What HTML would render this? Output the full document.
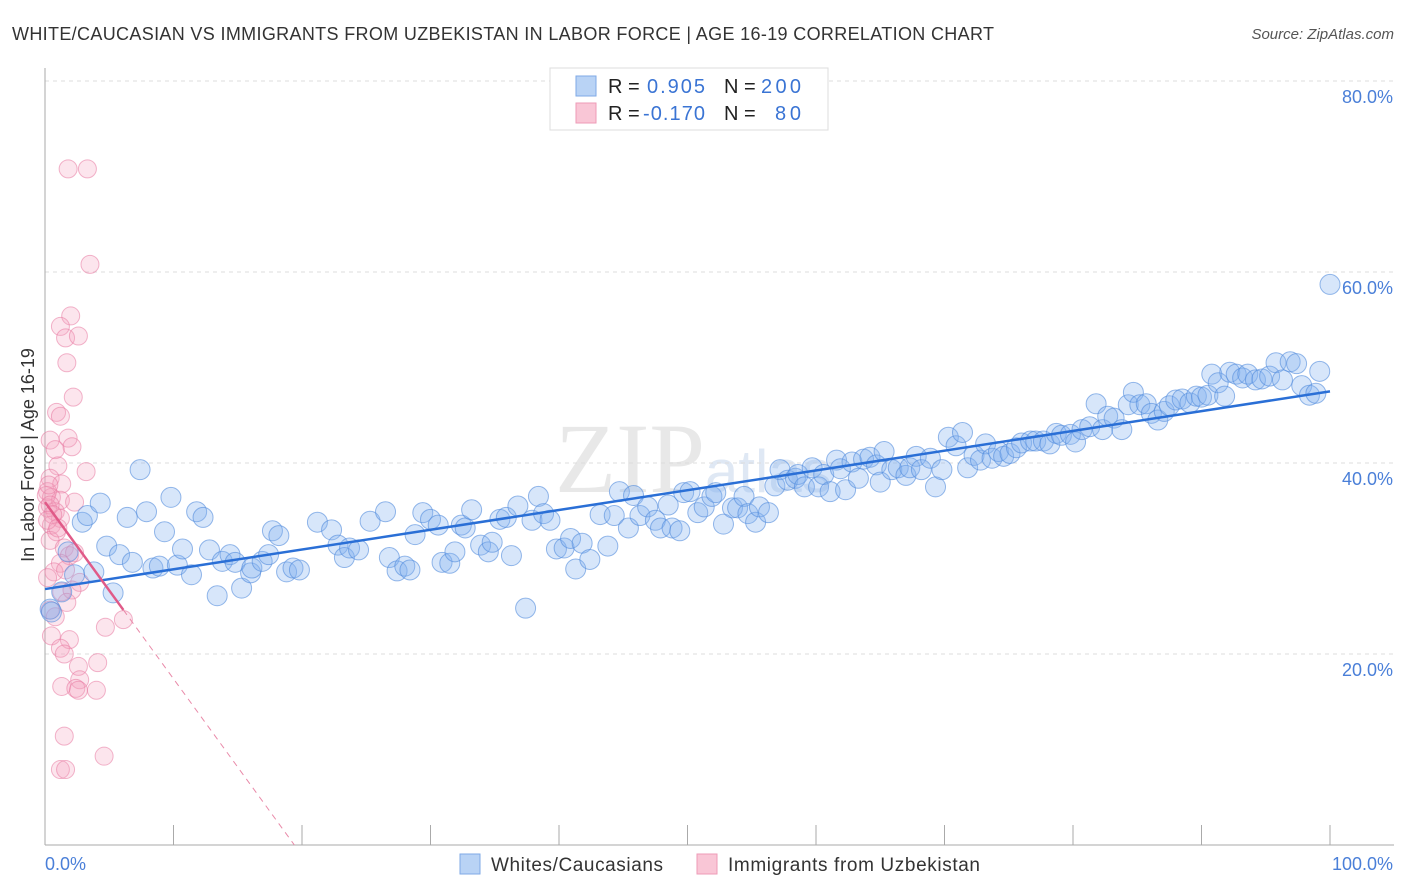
<!DOCTYPE html>
<html><head><meta charset="utf-8"><style>
body{margin:0;background:#fff;font-family:"Liberation Sans",sans-serif;}
#wrap{position:relative;width:1406px;height:892px;overflow:hidden;}
</style></head><body>
<div id="wrap">
<svg id="svg" width="1406" height="892">
<text x="12" y="40" font-size="18" fill="#333" textLength="982" lengthAdjust="spacing">WHITE/CAUCASIAN VS IMMIGRANTS FROM UZBEKISTAN IN LABOR FORCE | AGE 16-19 CORRELATION CHART</text>
<text x="1394" y="39" font-size="15" fill="#555" font-style="italic" text-anchor="end">Source: ZipAtlas.com</text>
<text x="555" y="492" font-size="100" fill="#e8e8e8" font-family="Liberation Serif">ZIP<tspan font-size="60" font-family="Liberation Sans" fill="#dfe8f4">atlas</tspan></text>
<g id="grid"></g><g id="axes"></g><g id="pink"></g><g id="blue"></g><g id="lines"></g>
<text transform="translate(34,455) rotate(-90)" font-size="18" fill="#333" text-anchor="middle">In Labor Force | Age 16-19</text>
<text x="45" y="870" font-size="18" fill="#4a7fd8">0.0%</text>
<text x="1393" y="870" font-size="18" fill="#4a7fd8" text-anchor="end">100.0%</text>
<g>
<rect x="550" y="68" width="278" height="62" fill="#fff" stroke="#ddd"/>
<rect x="576" y="76" width="20" height="20" fill="#b9d3f5" stroke="#7fa9e6"/>
<rect x="576" y="103" width="20" height="20" fill="#f9c6d6" stroke="#ee9bb7"/>
<text x="608" y="93" font-size="20" fill="#222">R = <tspan x="647" fill="#3a74d4" textLength="58">0.905</tspan><tspan x="724" fill="#222">N =</tspan><tspan x="761" fill="#3a74d4" textLength="40">200</tspan></text>
<text x="608" y="120" font-size="20" fill="#222">R = <tspan x="643" fill="#3a74d4" textLength="62">-0.170</tspan><tspan x="724" fill="#222">N =</tspan><tspan x="775" fill="#3a74d4" textLength="26">80</tspan></text>
</g>
<g>
<rect x="460" y="854" width="20" height="20" fill="#b9d3f5" stroke="#7fa9e6"/>
<text x="491" y="871" font-size="19" fill="#333" textLength="172">Whites/Caucasians</text>
<rect x="697" y="854" width="20" height="20" fill="#f9c6d6" stroke="#ee9bb7"/>
<text x="728" y="871" font-size="19" fill="#333" textLength="252">Immigrants from Uzbekistan</text>
</g>
</svg>
</div>
<script>
const yTicks=[20,40,60,80];
const yTickLabels=["20.0%","40.0%","60.0%","80.0%"];
const xTicks=[0,10,20,30,40,50,60,70,80,90,100];
const blueX=[0.4,0.5,1.3,1.8,2.3,2.9,3.3,3.8,4.3,4.8,5.3,5.8,6.4,6.8,7.4,7.9,8.4,8.9,9.3,9.8,10.3,10.7,11.4,11.8,12.3,12.8,13.4,13.8,14.4,14.8,15.3,16.0,16.1,16.9,17.4,17.7,18.2,18.8,19.3,19.8,21.2,22.3,22.8,23.3,23.7,24.4,25.3,26.5,26.8,
27.4,28.0,28.4,28.8,29.4,30.0,30.6,30.9,31.5,31.9,32.4,32.7,33.2,33.9,34.5,34.8,35.4,35.9,36.3,36.8,37.9,38.4,38.8,39.3,39.8,40.4,40.9,41.3,41.8,42.4,43.2,43.8,44.3,44.7,45.4,45.8,46.3,46.9,47.5,47.9,48.5,48.8,49.4,49.7,50.2,50.8,51.3,51.9,52.2,52.8,53.5,53.9,54.4,54.7,55.3,55.6,56.3,56.8,57.2,57.8,58.4,58.6,59.1,59.7,60.2,60.6,61.1,61.6,61.9,62.3,62.8,63.3,63.7,64.2,64.7,65.0,65.3,65.9,66.4,67.0,67.3,67.8,68.2,68.9,69.3,69.8,70.3,70.9,71.4,71.8,72.3,72.8,73.2,73.7,74.2,74.6,75.1,75.6,76.0,76.7,77.1,77.7,78.2,78.7,79.1,79.8,80.2,80.7,81.3,81.8,82.3,82.7,83.2,83.8,84.3,84.7,85.2,85.7,86.1,86.6,87.1,87.5,88.0,88.5,89.1,89.6,90.0,90.5,90.8,91.3,91.8,92.2,92.7,93.2,93.6,94.2,94.7,95.3,95.8,96.3,96.9,97.4,97.8,98.4,98.9,99.2,100,37.4];
const blueY=[24.7,24.4,26.5,30.7,28.3,33.8,34.5,28.6,35.8,31.3,26.4,30.4,34.3,29.6,39.3,34.9,29.0,29.2,32.8,36.4,29.3,31.0,28.3,34.9,34.3,30.9,26.1,29.7,30.4,29.6,26.9,28.5,29.0,29.7,30.4,32.9,32.4,28.6,29.0,28.8,33.8,33.0,31.4,30.1,31.1,30.9,33.9,34.9,30.1,
28.7,29.2,28.8,32.5,34.8,34.1,33.5,29.6,29.5,30.7,33.5,33.2,35.1,31.4,30.7,31.7,34.1,34.3,30.3,35.5,34.0,36.5,34.7,34.0,31.0,31.1,32.1,28.9,31.6,29.9,34.6,31.3,34.5,37.0,33.2,36.6,34.5,35.4,34.0,33.2,35.6,33.2,32.9,36.9,37.0,34.8,35.4,36.5,36.9,33.6,35.3,35.3,36.5,34.7,33.8,35.4,34.8,37.6,39.3,38.2,38.4,38.8,37.5,39.5,37.5,38.8,37.0,40.3,39.4,37.2,40.1,38.4,40.4,40.6,39.8,38.0,41.2,39.3,39.5,38.7,39.5,40.7,39.3,40.5,37.5,39.3,42.7,41.8,43.2,39.5,40.8,40.3,42.0,40.5,41.2,40.7,41.0,41.6,42.1,42.3,42.3,42.3,42.0,43.1,42.9,43.0,42.2,43.5,43.8,46.2,43.5,44.9,44.7,43.5,46.1,47.4,46.1,46.2,45.2,44.5,45.4,46.0,46.6,46.7,46.3,47.0,46.9,47.1,49.3,48.4,47.0,49.5,49.3,48.9,49.3,48.7,48.8,49.1,50.5,48.7,50.6,50.4,48.1,47.1,47.3,49.6,58.7,24.8];
const pinkX=[1.8,3.3,3.5,2.0,1.2,1.6,2.6,1.7,2.2,0.9,1.2,0.4,1.8,2.1,0.8,1.0,3.2,0.4,1.3,0.2,0.5,1.2,2.3,0.2,0.8,1.2,0.5,0.9,0.4,1.5,1.9,2.3,1.2,0.7,1.6,0.2,2.7,1.3,2.1,1.7,0.4,0.8,6.1,4.7,0.5,1.9,1.2,1.5,4.1,2.6,2.7,1.3,2.4,2.6,4.0,1.5,4.6,1.2,1.6,0.1,0.4,0.6,0.2,1.0,0.3];
const pinkY=[70.8,70.8,60.8,55.4,54.3,53.1,53.3,50.5,46.9,45.3,44.9,42.4,42.6,41.7,41.4,39.7,39.1,38.4,37.8,37.0,36.4,36.1,35.9,35.3,34.9,34.2,33.5,32.8,31.9,31.1,30.3,30.6,29.5,28.6,28.8,28.0,27.5,26.5,26.7,25.4,24.6,23.9,23.6,22.8,21.9,21.5,20.6,20.0,19.1,18.7,17.3,16.6,16.4,16.2,16.2,11.4,9.3,7.9,7.9,36.6,35.6,34.6,34.0,33.2,37.7];
const blueFit=[26.8,47.5];
const pinkFit=[35.9,-1.85];
const NS="http://www.w3.org/2000/svg";
const X0=45,X1=1330,Y0=845,PPY=9.55;
function sx(v){return X0+(X1-X0)*v/100;}
function sy(v){return Y0-v*PPY;}
function mk(tag,attrs,parent){const e=document.createElementNS(NS,tag);for(const k in attrs)e.setAttribute(k,attrs[k]);document.getElementById(parent).appendChild(e);return e;}
yTicks.forEach((t,i)=>{
 const l=mk('line',{x1:X0,x2:1394,y1:sy(t),y2:sy(t),stroke:'#ddd','stroke-dasharray':'4,4'},'grid');
 
 
 const tx=mk('text',{x:1393,y:sy(t)+22,'font-size':18,fill:'#4a7fd8','text-anchor':'end'},'grid');
 tx.textContent=yTickLabels[i];
 
 
});
const ya=mk('line',{x1:X0,x2:X0,y1:68,y2:Y0,stroke:'#aaa'},'axes');


const xa=mk('line',{x1:X0,x2:1394,y1:Y0,y2:Y0,stroke:'#aaa'},'axes');


xTicks.forEach(t=>{if(t===0)return;
 const l=mk('line',{x1:sx(t),x2:sx(t),y1:Y0-20,y2:Y0,stroke:'#aaa'},'axes');
 
 
});
pinkX.forEach((v,i)=>{
 const c=mk('circle',{cx:sx(v),cy:sy(pinkY[i]),r:9,fill:'rgba(244,160,190,0.28)',stroke:'rgba(232,120,160,0.55)','stroke-width':1},'pink');
 
 
});
blueX.forEach((v,i)=>{
 const c=mk('circle',{cx:sx(v),cy:sy(blueY[i]),r:10,fill:'rgba(130,178,238,0.32)',stroke:'rgba(80,138,220,0.6)','stroke-width':1},'blue');
 
 
});
const bl=mk('line',{x1:sx(0),y1:sy(blueFit[0]),x2:sx(100),y2:sy(blueFit[1]),stroke:'#2a6fd6','stroke-width':2.5},'lines');


const pEnd=6.1, pZero=-pinkFit[0]/pinkFit[1];
const pl=mk('line',{x1:sx(0),y1:sy(pinkFit[0]),x2:sx(pEnd),y2:sy(pinkFit[0]+pinkFit[1]*pEnd),stroke:'#e05a88','stroke-width':2.5},'lines');


const pd=mk('line',{x1:sx(pEnd),y1:sy(pinkFit[0]+pinkFit[1]*pEnd),x2:sx(pZero),y2:sy(0),stroke:'#e98aa9','stroke-width':1,'stroke-dasharray':'6,5'},'lines');


</script>
</body></html>
